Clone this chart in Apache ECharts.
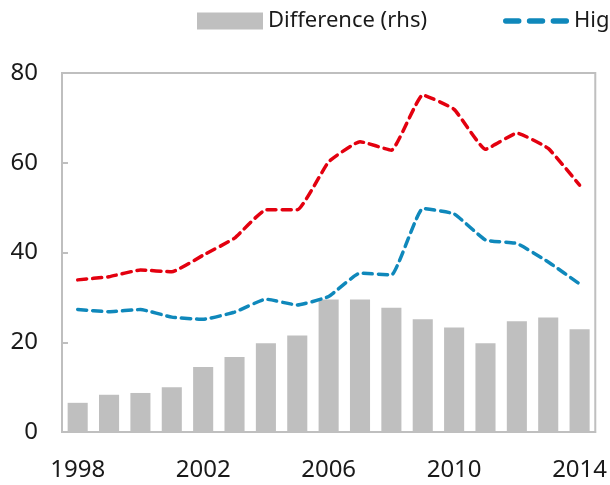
<!DOCTYPE html>
<html>
<head>
<meta charset="utf-8">
<script src="https://cdn.jsdelivr.net/npm/echarts@6/dist/echarts.min.js"></script>
<style>
  html, body { margin: 0; padding: 0; background: #fff; }
  #chart { width: 610px; height: 485px; }
</style>
</head>
<body>
<div id="chart"></div>
<script>
const years = ["1998", "1999", "2000", "2001", "2002", "2003", "2004", "2005", "2006",
  "2007", "2008", "2009", "2010", "2011", "2012", "2013", "2014"];
const difference = [6.5, 8.3, 8.7, 10.0, 14.5, 16.7, 19.8, 21.5, 29.5, 29.5, 27.7, 25.1, 23.3, 19.8, 24.7, 25.5, 22.9];
const highSkilled = [27.3, 26.8, 27.3, 25.6, 25.1, 26.7, 29.6, 28.3, 30.2, 35.4, 35.0, 49.8, 48.6, 42.8, 42.0, 37.9, 33.0];
const lowSkilled = [33.9, 34.6, 36.1, 35.7, 39.4, 43.2, 49.5, 49.5, 60.2, 64.7, 62.8, 75.1, 71.9, 63.0, 66.6, 63.2, 55.0];
const yTicks = [0, 20, 40, 60, 80];

const font = "'Noto Sans', 'Open Sans', sans-serif";
const grey = "#bfbfbf";
// three rounded dashes for the line legend icons
const dashIcon = "path://M2,0h12a2,2 0 0 1 0,5h-12a2,2 0 0 1 0,-5z" +
  "M24,0h12a2,2 0 0 1 0,5h-12a2,2 0 0 1 0,-5z" +
  "M46,0h12a2,2 0 0 1 0,5h-12a2,2 0 0 1 0,-5z";

const chart = echarts.init(document.getElementById("chart"));
chart.setOption({
  animation: false,
  textStyle: { fontFamily: font },
  legend: {
    left: 192,
    top: 5,
    width: 2000,
    itemWidth: 66,
    itemHeight: 17,
    itemGap: 76,
    textStyle: { fontSize: 22, color: "#1a1a1a", fontFamily: font },
    data: [
      { name: "Difference (rhs)", icon: "rect" },
      { name: "High-skill", icon: dashIcon },
      { name: "Low-skill", icon: dashIcon }
    ]
  },
  grid: { left: 62, right: 13, top: 73, bottom: 53, show: true, borderColor: grey, borderWidth: 2 },
  xAxis: {
    type: "category",
    data: years,
    axisLine: { lineStyle: { color: grey, width: 2 } },
    axisTick: { inside: true, interval: 3, length: 6, lineStyle: { color: grey, width: 2 } },
    axisLabel: { interval: 3, margin: 26, fontSize: 24, color: "#1a1a1a" }
  },
  yAxis: [
    {
      type: "value",
      min: yTicks[0],
      max: yTicks[yTicks.length - 1],
      interval: 20,
      axisLine: { show: true, lineStyle: { color: grey, width: 2 } },
      axisTick: { show: true, inside: true, length: 6, lineStyle: { color: grey, width: 2 } },
      splitLine: { show: false },
      axisLabel: { margin: 24, fontSize: 24, color: "#1a1a1a" }
    },
    { type: "value", min: 0, max: 80, show: false }
  ],
  series: [
    {
      name: "Difference (rhs)",
      type: "bar",
      yAxisIndex: 1,
      data: difference,
      barWidth: "64%",
      itemStyle: { color: grey }
    },
    {
      name: "High-skill",
      type: "line",
      data: highSkilled,
      symbol: "none",
      smooth: 0.12,
      lineStyle: { color: "#0f88bb", width: 3.5, type: [9, 6], cap: "round" },
      itemStyle: { color: "#0f88bb" }
    },
    {
      name: "Low-skill",
      type: "line",
      data: lowSkilled,
      symbol: "none",
      smooth: 0.12,
      lineStyle: { color: "#e3000f", width: 3.5, type: [9, 6], cap: "round" },
      itemStyle: { color: "#e3000f" }
    }
  ]
});
window.addEventListener("resize", () => chart.resize());
</script>
</body>
</html>
